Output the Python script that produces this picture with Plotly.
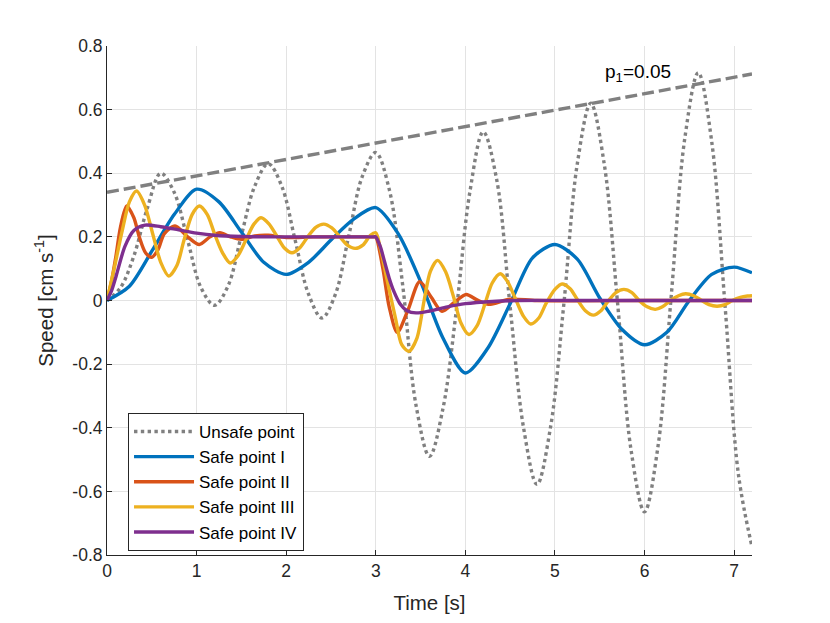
import plotly.graph_objects as go

# ---------------- data ----------------
ref_t = [0.0, 7.2]
ref_v = [0.34, 0.712]

unsafe_t = [0.0, 0.15, 0.30, 0.45, 0.60, 0.75, 0.90, 1.05, 1.20, 1.35, 1.50, 1.65, 1.80,
            1.95, 2.10, 2.25, 2.40, 2.55, 2.70, 2.85, 3.00, 3.15, 3.30, 3.45, 3.60, 3.75,
            3.90, 4.05, 4.20, 4.35, 4.50, 4.65, 4.80, 4.95, 5.10, 5.25, 5.40, 5.55, 5.70,
            5.85, 6.00, 6.15, 6.30, 6.45, 6.60, 6.75, 6.90, 7.05, 7.20]
unsafe_v = [0.0, 0.04, 0.14, 0.29, 0.40, 0.34, 0.19, 0.04, -0.015, 0.045, 0.205, 0.36, 0.43,
            0.36, 0.19, 0.02, -0.055, 0.02, 0.205, 0.39, 0.465, 0.35, 0.05, -0.33, -0.49, -0.34,
            -0.03, 0.34, 0.53, 0.38, -0.02, -0.40, -0.578, -0.40, -0.01, 0.43, 0.62, 0.43, -0.01,
            -0.47, -0.664, -0.46, 0.02, 0.51, 0.716, 0.50, -0.02, -0.55, -0.774]

safe1_t = [0.0, 0.25, 0.5, 0.75, 1.0, 1.25, 1.5, 1.75, 2.0, 2.25, 2.5, 2.75, 3.0, 3.25,
           3.5, 3.75, 4.0, 4.25, 4.5, 4.75, 5.0, 5.25, 5.5, 5.75, 6.0, 6.25, 6.5, 6.75,
           7.0, 7.2]
safe1_v = [0.0, 0.045, 0.155, 0.27, 0.35, 0.31, 0.215, 0.12, 0.082, 0.12, 0.19, 0.255, 0.292, 0.21,
           0.06, -0.118, -0.228, -0.15, -0.01, 0.134, 0.176, 0.13, 0.008, -0.091, -0.139, -0.10,
           0.0, 0.082, 0.105, 0.087]

safe2_t = [0.0, 0.05, 0.10, 0.15, 0.22, 0.30, 0.36, 0.43, 0.50, 0.57, 0.64, 0.76, 0.90, 1.03,
           1.15, 1.26, 1.38, 1.50, 1.65, 1.80, 2.00, 2.30, 2.70, 2.98, 3.00, 3.08, 3.15, 3.24,
           3.36, 3.49, 3.62, 3.74, 3.88, 4.01, 4.13, 4.26, 4.50, 4.80, 6.00, 7.20]
safe2_v = [0.0, 0.06, 0.14, 0.23, 0.297, 0.26, 0.20, 0.15, 0.136, 0.16, 0.21, 0.234, 0.20, 0.176,
           0.20, 0.213, 0.20, 0.192, 0.203, 0.205, 0.198, 0.20, 0.20, 0.20, 0.20, 0.10, -0.02, -0.10,
           -0.03, 0.059, 0.01, -0.034, -0.005, 0.019, 0.002, -0.012, 0.004, 0.0, 0.0, 0.0]

safe3_t = [0.0, 0.08, 0.17, 0.25, 0.33, 0.42, 0.51, 0.60, 0.69, 0.78, 0.86, 0.95, 1.03, 1.12,
           1.20, 1.29, 1.375, 1.46, 1.55, 1.64, 1.72, 1.81, 1.89, 1.98, 2.065, 2.15, 2.24, 2.33,
           2.42, 2.51, 2.60, 2.68, 2.77, 2.86, 2.94, 3.00, 3.05, 3.13, 3.22, 3.29, 3.37, 3.46,
           3.54, 3.61, 3.69, 3.78, 3.87, 3.95, 4.04, 4.13, 4.22, 4.30, 4.39, 4.47, 4.56, 4.65,
           4.73, 4.82, 4.90, 5.00, 5.08, 5.17, 5.25, 5.34, 5.43, 5.51, 5.60, 5.68, 5.77, 5.86,
           5.94, 6.03, 6.12, 6.20, 6.29, 6.38, 6.46, 6.55, 6.64, 6.72, 6.81, 6.90, 6.98, 7.07,
           7.15, 7.20]
safe3_v = [0.0, 0.10, 0.22, 0.31, 0.344, 0.30, 0.21, 0.12, 0.077, 0.11, 0.19, 0.27, 0.297, 0.27,
           0.21, 0.15, 0.118, 0.14, 0.19, 0.24, 0.26, 0.24, 0.205, 0.165, 0.15, 0.165, 0.20, 0.23,
           0.24, 0.228, 0.20, 0.175, 0.164, 0.175, 0.205, 0.213, 0.166, 0.06, -0.055, -0.139, -0.16, -0.118,
           0.0, 0.092, 0.126, 0.09, 0.01, -0.07, -0.107, -0.08, -0.01, 0.055, 0.084, 0.06, 0.005, -0.05,
           -0.074, -0.055, -0.01, 0.035, 0.052, 0.037, 0.003, -0.032, -0.046, -0.033, 0.0, 0.025, 0.035, 0.025,
           0.0, -0.02, -0.028, -0.02, 0.0, 0.015, 0.021, 0.015, 0.0, -0.013, -0.018, -0.013, 0.0, 0.01,
           0.014, 0.015]

safe4_t = [0.0, 0.05, 0.10, 0.20, 0.30, 0.425, 0.60, 0.80, 1.00, 1.20, 1.50, 2.00, 2.50, 2.98,
           3.00, 3.05, 3.10, 3.15, 3.20, 3.27, 3.35, 3.45, 3.60, 3.80, 4.00, 4.30, 4.60, 5.50,
           6.50, 7.20]
safe4_v = [0.0, 0.03, 0.075, 0.17, 0.22, 0.237, 0.232, 0.222, 0.212, 0.205, 0.201, 0.20, 0.20, 0.20,
           0.20, 0.17, 0.12, 0.07, 0.03, -0.01, -0.032, -0.039, -0.033, -0.02, -0.01, -0.003, 0.0, 0.0,
           0.0, 0.0]

series_names = ["Unsafe point", "Safe point I", "Safe point II", "Safe point III", "Safe point IV"]
x_ticks = [0, 1, 2, 3, 4, 5, 6, 7]
y_ticks = [-0.8, -0.6, -0.4, -0.2, 0, 0.2, 0.4, 0.6, 0.8]
y_tick_text = ["-0.8", "-0.6", "-0.4", "-0.2", "0", "0.2", "0.4", "0.6", "0.8"]

# ---------------- figure ----------------
GRAY = "#808080"
FONT = "Liberation Sans, Arial, Helvetica, sans-serif"
fig = go.Figure()

fig.add_trace(go.Scatter(x=ref_t, y=ref_v, mode="lines", showlegend=False,
                         line=dict(color=GRAY, width=3.4, dash="12px,5px")))
fig.add_trace(go.Scatter(x=unsafe_t, y=unsafe_v, mode="lines", name=series_names[0],
                         line=dict(color=GRAY, width=3.4, dash="dot", shape="spline", smoothing=1)))
colors = ["#0072BD", "#D95319", "#EDB120", "#7E2F8E"]
for name, tt, vv, c in zip(series_names[1:],
                           [safe1_t, safe2_t, safe3_t, safe4_t],
                           [safe1_v, safe2_v, safe3_v, safe4_v], colors):
    fig.add_trace(go.Scatter(x=tt, y=vv, mode="lines", name=name,
                             line=dict(color=c, width=3.4, shape="spline", smoothing=0.8)))

fig.add_annotation(x=5.556, y=0.716, xref="x", yref="y", xanchor="left", yanchor="middle",
                   text="p<sub>1</sub>=0.05", showarrow=False, xshift=-2,
                   font=dict(size=19, color="#000000", family=FONT))

axis_common = dict(showgrid=True, gridcolor="#e3e3e3", gridwidth=1, zeroline=False,
                   showline=True, linecolor="#262626", linewidth=1, ticks="inside", ticklen=5,
                   tickcolor="#262626", tickfont=dict(size=17.5, color="#262626", family=FONT),
                   mirror=False, automargin=False)

# the page places the figure 8 px in from the window's top-left corner
fig.update_layout(
    width=830, height=623,
    margin=dict(l=99, r=86, t=38, b=76),
    paper_bgcolor="white", plot_bgcolor="white",
    font=dict(family=FONT, color="#262626"),
    xaxis=dict(range=[0, 7.2], tickvals=x_ticks,
               title=dict(text="Time [s]", font=dict(size=20.5, color="#262626", family=FONT), standoff=15),
               **axis_common),
    yaxis=dict(range=[-0.8, 0.8], tickvals=y_ticks, ticktext=y_tick_text,
               title=dict(text="Speed [cm s<sup>-1</sup>]", font=dict(size=20.5, color="#262626", family=FONT), standoff=13),
               **axis_common),
    legend=dict(x=0.0326, y=0.279, xanchor="left", yanchor="top",
                bgcolor="white", bordercolor="#262626", borderwidth=1,
                font=dict(size=17, color="#000000", family=FONT), itemwidth=60, tracegroupgap=0),
    showlegend=True,
)

fig.write_html("out.html")
